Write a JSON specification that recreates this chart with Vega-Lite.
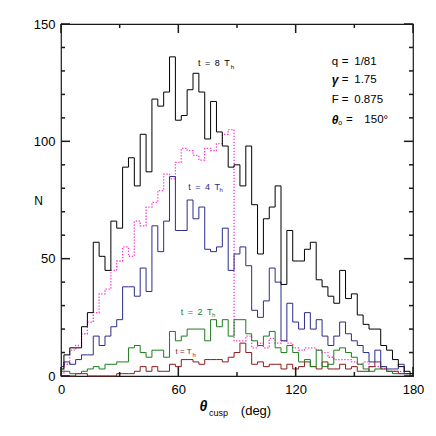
{
  "$schema": "https://vega.github.io/schema/vega-lite/v6.json",
  "width": 352,
  "height": 352,
  "autosize": {"type": "none"},
  "padding": {"left": 61, "top": 24, "right": 23, "bottom": 60},
  "background": "#ffffff",
  "config": {
    "font": "Liberation Sans",
    "view": {"stroke": "#1a1a1a", "strokeWidth": 1.2},
    "axis": {"domain": false, "grid": false, "ticks": false, "labelFont": "Liberation Sans", "labelFontSize": 13, "labelColor": "#000000", "titleColor": "#000000", "titleFont": "Liberation Sans", "titleFontWeight": "normal"}
  },
  "datasets": {
    "h": [
      {"theta": 0, "t8": 3, "t4": 4, "t2": 2, "t1": 0, "pink": 1},
      {"theta": 3, "t8": 9, "t4": 6, "t2": 2, "t1": 0, "pink": 5},
      {"theta": 6, "t8": 12, "t4": 5, "t2": 1, "t1": 0, "pink": 11},
      {"theta": 9, "t8": 12, "t4": 7, "t2": 1, "t1": 1, "pink": 13},
      {"theta": 12, "t8": 21, "t4": 9, "t2": 2, "t1": 1, "pink": 18},
      {"theta": 15, "t8": 27, "t4": 9, "t2": 3, "t1": 0, "pink": 23},
      {"theta": 18, "t8": 57, "t4": 17, "t2": 4, "t1": 0, "pink": 27},
      {"theta": 21, "t8": 51, "t4": 13, "t2": 3, "t1": 0, "pink": 35},
      {"theta": 24, "t8": 45, "t4": 17, "t2": 5, "t1": 0, "pink": 37},
      {"theta": 27, "t8": 66, "t4": 21, "t2": 5, "t1": 0, "pink": 45},
      {"theta": 30, "t8": 63, "t4": 24, "t2": 6, "t1": 1, "pink": 49},
      {"theta": 33, "t8": 89, "t4": 38, "t2": 6, "t1": 1, "pink": 55},
      {"theta": 36, "t8": 93, "t4": 38, "t2": 12, "t1": 1, "pink": 51},
      {"theta": 39, "t8": 81, "t4": 34, "t2": 13, "t1": 2, "pink": 66},
      {"theta": 42, "t8": 103, "t4": 46, "t2": 10, "t1": 4, "pink": 64},
      {"theta": 45, "t8": 87, "t4": 36, "t2": 8, "t1": 2, "pink": 72},
      {"theta": 48, "t8": 118, "t4": 64, "t2": 11, "t1": 4, "pink": 74},
      {"theta": 51, "t8": 115, "t4": 53, "t2": 11, "t1": 2, "pink": 79},
      {"theta": 54, "t8": 121, "t4": 66, "t2": 8, "t1": 2, "pink": 86},
      {"theta": 57, "t8": 136, "t4": 85, "t2": 19, "t1": 5, "pink": 84},
      {"theta": 60, "t8": 109, "t4": 62, "t2": 15, "t1": 4, "pink": 91},
      {"theta": 63, "t8": 111, "t4": 62, "t2": 17, "t1": 7, "pink": 97},
      {"theta": 66, "t8": 122, "t4": 75, "t2": 20, "t1": 7, "pink": 96},
      {"theta": 69, "t8": 129, "t4": 67, "t2": 20, "t1": 6, "pink": 94},
      {"theta": 72, "t8": 121, "t4": 72, "t2": 20, "t1": 5, "pink": 92},
      {"theta": 75, "t8": 101, "t4": 54, "t2": 15, "t1": 7, "pink": 97},
      {"theta": 78, "t8": 117, "t4": 53, "t2": 24, "t1": 7, "pink": 96},
      {"theta": 81, "t8": 104, "t4": 55, "t2": 21, "t1": 7, "pink": 99},
      {"theta": 84, "t8": 98, "t4": 63, "t2": 24, "t1": 6, "pink": 103},
      {"theta": 87, "t8": 89, "t4": 45, "t2": 17, "t1": 8, "pink": 105},
      {"theta": 90, "t8": 90, "t4": 52, "t2": 24, "t1": 10, "pink": 15},
      {"theta": 93, "t8": 81, "t4": 55, "t2": 24, "t1": 14, "pink": 15},
      {"theta": 96, "t8": 98, "t4": 47, "t2": 18, "t1": 10, "pink": 17},
      {"theta": 99, "t8": 73, "t4": 28, "t2": 15, "t1": 5, "pink": 12},
      {"theta": 102, "t8": 52, "t4": 25, "t2": 13, "t1": 6, "pink": 14},
      {"theta": 105, "t8": 67, "t4": 32, "t2": 17, "t1": 4, "pink": 12},
      {"theta": 108, "t8": 72, "t4": 46, "t2": 19, "t1": 5, "pink": 16},
      {"theta": 111, "t8": 81, "t4": 40, "t2": 12, "t1": 5, "pink": 14},
      {"theta": 114, "t8": 39, "t4": 15, "t2": 10, "t1": 3, "pink": 15},
      {"theta": 117, "t8": 62, "t4": 31, "t2": 13, "t1": 5, "pink": 14},
      {"theta": 120, "t8": 49, "t4": 23, "t2": 10, "t1": 3, "pink": 12},
      {"theta": 123, "t8": 49, "t4": 20, "t2": 6, "t1": 4, "pink": 11},
      {"theta": 126, "t8": 54, "t4": 27, "t2": 7, "t1": 6, "pink": 12},
      {"theta": 129, "t8": 57, "t4": 20, "t2": 4, "t1": 4, "pink": 12},
      {"theta": 132, "t8": 41, "t4": 24, "t2": 11, "t1": 3, "pink": 11},
      {"theta": 135, "t8": 38, "t4": 17, "t2": 4, "t1": 6, "pink": 10},
      {"theta": 138, "t8": 34, "t4": 13, "t2": 5, "t1": 3, "pink": 8},
      {"theta": 141, "t8": 31, "t4": 17, "t2": 11, "t1": 3, "pink": 7},
      {"theta": 144, "t8": 45, "t4": 23, "t2": 12, "t1": 5, "pink": 7},
      {"theta": 147, "t8": 33, "t4": 18, "t2": 10, "t1": 3, "pink": 7},
      {"theta": 150, "t8": 35, "t4": 15, "t2": 8, "t1": 4, "pink": 6},
      {"theta": 153, "t8": 26, "t4": 13, "t2": 5, "t1": 2, "pink": 5},
      {"theta": 156, "t8": 22, "t4": 10, "t2": 3, "t1": 2, "pink": 6},
      {"theta": 159, "t8": 20, "t4": 6, "t2": 2, "t1": 4, "pink": 4},
      {"theta": 162, "t8": 20, "t4": 11, "t2": 3, "t1": 6, "pink": 4},
      {"theta": 165, "t8": 13, "t4": 4, "t2": 4, "t1": 3, "pink": 3},
      {"theta": 168, "t8": 11, "t4": 3, "t2": 2, "t1": 2, "pink": 2},
      {"theta": 171, "t8": 7, "t4": 3, "t2": 1, "t1": 2, "pink": 2},
      {"theta": 174, "t8": 4, "t4": 5, "t2": 1, "t1": 1, "pink": 2},
      {"theta": 177, "t8": 2, "t4": 1, "t2": 1, "t1": 1, "pink": 1},
      {"theta": 180, "t8": 1, "t4": 1, "t2": 0, "t1": 0, "pink": 1}
    ],
    "xmaj": [{"v": 0}, {"v": 60}, {"v": 120}, {"v": 180}],
    "xmin": [{"v": 30}, {"v": 90}, {"v": 150}],
    "ymaj": [{"v": 0}, {"v": 50}, {"v": 100}, {"v": 150}],
    "ymin": [{"v": 10}, {"v": 20}, {"v": 30}, {"v": 40}, {"v": 60}, {"v": 70}, {"v": 80}, {"v": 90}, {"v": 110}, {"v": 120}, {"v": 130}, {"v": 140}],
    "lab": [
      {"x": 70.1, "y": 133.2, "text": "t\u2002=\u20028\u2002T", "s": "8"},
      {"x": 65.1, "y": 80.7, "text": "t\u2002=\u20024\u2002T", "s": "4"},
      {"x": 61.2, "y": 27.4, "text": "t\u2002=\u20022\u2002T", "s": "2"}
    ],
    "lab1": [
      {"x": 58.6, "y": 10.2, "text": "t = T", "s": "1"}
    ],
    "sub": [
      {"x": 86.8, "y": 131.8, "text": "h", "s": "8"},
      {"x": 81.0, "y": 79.3, "text": "h", "s": "4"},
      {"x": 77.2, "y": 26.0, "text": "h", "s": "2"},
      {"x": 67.3, "y": 8.9, "text": "h", "s": "1"}
    ],
    "par": [
      {"x": 138.5, "y": 133.9, "text": "q"},
      {"x": 138.5, "y": 117.6, "text": "F"},
      {"x": 143.6, "y": 133.9, "text": "=\u20021/81"},
      {"x": 143.6, "y": 126.1, "text": "=\u20021.75"},
      {"x": 143.6, "y": 117.6, "text": "=\u20020.875"},
      {"x": 145.8, "y": 109.1, "text": "=\u2002\u2002150°"}
    ],
    "parb": [
      {"x": 138.5, "y": 126.1, "text": "γ"},
      {"x": 138.5, "y": 109.1, "text": "θ"}
    ],
    "paro": [
      {"x": 141.8, "y": 107.7, "text": "o"}
    ]
  },
  "resolve": {"axis": {"x": "independent", "y": "independent"}},
  "layer": [
    {
      "data": {"name": "h"},
      "mark": {"type": "line", "interpolate": "step", "color": "#ff33cc", "strokeWidth": 1.3, "strokeDash": [1.3, 1.7]},
      "encoding": {
        "x": {"field": "theta", "type": "quantitative", "scale": {"domain": [0, 180], "nice": false, "zero": false}, "axis": null},
        "y": {"field": "pink", "type": "quantitative", "scale": {"domain": [0, 150], "nice": false}, "axis": null}
      }
    },
    {
      "data": {"name": "h"},
      "mark": {"type": "line", "interpolate": "step", "color": "#8b1c1c", "strokeWidth": 1},
      "encoding": {
        "x": {"field": "theta", "type": "quantitative", "scale": {"domain": [0, 180], "nice": false, "zero": false}, "axis": null},
        "y": {"field": "t1", "type": "quantitative", "scale": {"domain": [0, 150], "nice": false}, "axis": null}
      }
    },
    {
      "data": {"name": "h"},
      "mark": {"type": "line", "interpolate": "step", "color": "#1c7c1c", "strokeWidth": 1},
      "encoding": {
        "x": {"field": "theta", "type": "quantitative", "scale": {"domain": [0, 180], "nice": false, "zero": false},
              "axis": {"orient": "bottom", "values": [90], "labels": false, "title": "(deg)", "titleFontSize": 13, "titleX": 194.5, "titleY": 34, "titleAlign": "center", "titleBaseline": "middle"}},
        "y": {"field": "t2", "type": "quantitative", "scale": {"domain": [0, 150], "nice": false}, "axis": null}
      }
    },
    {
      "data": {"name": "h"},
      "mark": {"type": "line", "interpolate": "step", "color": "#2b2b8c", "strokeWidth": 1},
      "encoding": {
        "x": {"field": "theta", "type": "quantitative", "scale": {"domain": [0, 180], "nice": false, "zero": false},
              "axis": {"orient": "bottom", "values": [90], "labels": false, "title": "cusp", "titleFontSize": 9, "titleX": 157, "titleY": 36, "titleAlign": "center", "titleBaseline": "middle"}},
        "y": {"field": "t4", "type": "quantitative", "scale": {"domain": [0, 150], "nice": false}, "axis": null}
      }
    },
    {
      "data": {"name": "h"},
      "mark": {"type": "line", "interpolate": "step", "color": "#000000", "strokeWidth": 1},
      "encoding": {
        "x": {"field": "theta", "type": "quantitative", "scale": {"domain": [0, 180], "nice": false, "zero": false},
              "axis": {"orient": "bottom", "values": [0, 60, 120, 180], "labelPadding": 7, "labelFlush": false, "title": "θ", "titleFontSize": 14, "titleFontStyle": "italic", "titleFontWeight": "bold", "titleX": 142, "titleY": 30, "titleAlign": "center", "titleBaseline": "middle"}},
        "y": {"field": "t8", "type": "quantitative", "scale": {"domain": [0, 150], "nice": false},
              "axis": {"orient": "left", "values": [0, 50, 100, 150], "labelPadding": 6, "labelFlush": false, "title": "N", "titleAngle": 0, "titleFontSize": 12, "titleX": -23, "titleY": 176, "titleAlign": "center", "titleBaseline": "middle"}}
      }
    },
    {
      "data": {"name": "xmaj"},
      "mark": {"type": "rule", "color": "#1a1a1a", "strokeWidth": 1.5, "y2Offset": -9},
      "encoding": {"x": {"field": "v", "type": "quantitative", "axis": null}, "y": {"datum": 0, "axis": null}, "y2": {"datum": 0}}
    },
    {
      "data": {"name": "xmaj"},
      "mark": {"type": "rule", "color": "#1a1a1a", "strokeWidth": 1.5, "y2Offset": 9},
      "encoding": {"x": {"field": "v", "type": "quantitative", "axis": null}, "y": {"datum": 150, "axis": null}, "y2": {"datum": 150}}
    },
    {
      "data": {"name": "xmin"},
      "mark": {"type": "rule", "color": "#1a1a1a", "strokeWidth": 1.5, "y2Offset": -4},
      "encoding": {"x": {"field": "v", "type": "quantitative", "axis": null}, "y": {"datum": 0, "axis": null}, "y2": {"datum": 0}}
    },
    {
      "data": {"name": "xmin"},
      "mark": {"type": "rule", "color": "#1a1a1a", "strokeWidth": 1.5, "y2Offset": 4},
      "encoding": {"x": {"field": "v", "type": "quantitative", "axis": null}, "y": {"datum": 150, "axis": null}, "y2": {"datum": 150}}
    },
    {
      "data": {"name": "ymaj"},
      "mark": {"type": "rule", "color": "#1a1a1a", "strokeWidth": 1.5, "x2Offset": 9},
      "encoding": {"y": {"field": "v", "type": "quantitative", "axis": null}, "x": {"datum": 0, "axis": null}, "x2": {"datum": 0}}
    },
    {
      "data": {"name": "ymaj"},
      "mark": {"type": "rule", "color": "#1a1a1a", "strokeWidth": 1.5, "x2Offset": -9},
      "encoding": {"y": {"field": "v", "type": "quantitative", "axis": null}, "x": {"datum": 180, "axis": null}, "x2": {"datum": 180}}
    },
    {
      "data": {"name": "ymin"},
      "mark": {"type": "rule", "color": "#1a1a1a", "strokeWidth": 1.5, "x2Offset": 4},
      "encoding": {"y": {"field": "v", "type": "quantitative", "axis": null}, "x": {"datum": 0, "axis": null}, "x2": {"datum": 0}}
    },
    {
      "data": {"name": "ymin"},
      "mark": {"type": "rule", "color": "#1a1a1a", "strokeWidth": 1.5, "x2Offset": -4},
      "encoding": {"y": {"field": "v", "type": "quantitative", "axis": null}, "x": {"datum": 180, "axis": null}, "x2": {"datum": 180}}
    },
    {
      "data": {"name": "lab"},
      "mark": {"type": "text", "align": "left", "baseline": "middle", "fontSize": 9},
      "encoding": {
        "x": {"field": "x", "type": "quantitative", "axis": null},
        "y": {"field": "y", "type": "quantitative", "axis": null},
        "text": {"field": "text"},
        "color": {"field": "s", "type": "nominal", "legend": null, "scale": {"domain": ["8", "4", "2", "1"], "range": ["#000000", "#2b2b8c", "#1c7c1c", "#8b1c1c"]}}
      }
    },
    {
      "data": {"name": "lab1"},
      "mark": {"type": "text", "align": "left", "baseline": "middle", "fontSize": 8},
      "encoding": {
        "x": {"field": "x", "type": "quantitative", "axis": null},
        "y": {"field": "y", "type": "quantitative", "axis": null},
        "text": {"field": "text"},
        "color": {"field": "s", "type": "nominal", "legend": null, "scale": {"domain": ["8", "4", "2", "1"], "range": ["#000000", "#2b2b8c", "#1c7c1c", "#8b1c1c"]}}
      }
    },
    {
      "data": {"name": "sub"},
      "mark": {"type": "text", "align": "left", "baseline": "middle", "fontSize": 6},
      "encoding": {
        "x": {"field": "x", "type": "quantitative", "axis": null},
        "y": {"field": "y", "type": "quantitative", "axis": null},
        "text": {"field": "text"},
        "color": {"field": "s", "type": "nominal", "legend": null, "scale": {"domain": ["8", "4", "2", "1"], "range": ["#000000", "#2b2b8c", "#1c7c1c", "#8b1c1c"]}}
      }
    },
    {
      "data": {"name": "par"},
      "mark": {"type": "text", "align": "left", "baseline": "middle", "fontSize": 11.5, "color": "#000000"},
      "encoding": {
        "x": {"field": "x", "type": "quantitative", "axis": null},
        "y": {"field": "y", "type": "quantitative", "axis": null},
        "text": {"field": "text"}
      }
    },
    {
      "data": {"name": "parb"},
      "mark": {"type": "text", "align": "left", "baseline": "middle", "fontSize": 12, "fontWeight": "bold", "fontStyle": "italic", "color": "#000000"},
      "encoding": {
        "x": {"field": "x", "type": "quantitative", "axis": null},
        "y": {"field": "y", "type": "quantitative", "axis": null},
        "text": {"field": "text"}
      }
    },
    {
      "data": {"name": "paro"},
      "mark": {"type": "text", "align": "left", "baseline": "middle", "fontSize": 7, "color": "#000000"},
      "encoding": {
        "x": {"field": "x", "type": "quantitative", "axis": null},
        "y": {"field": "y", "type": "quantitative", "axis": null},
        "text": {"field": "text"}
      }
    }
  ]
}
